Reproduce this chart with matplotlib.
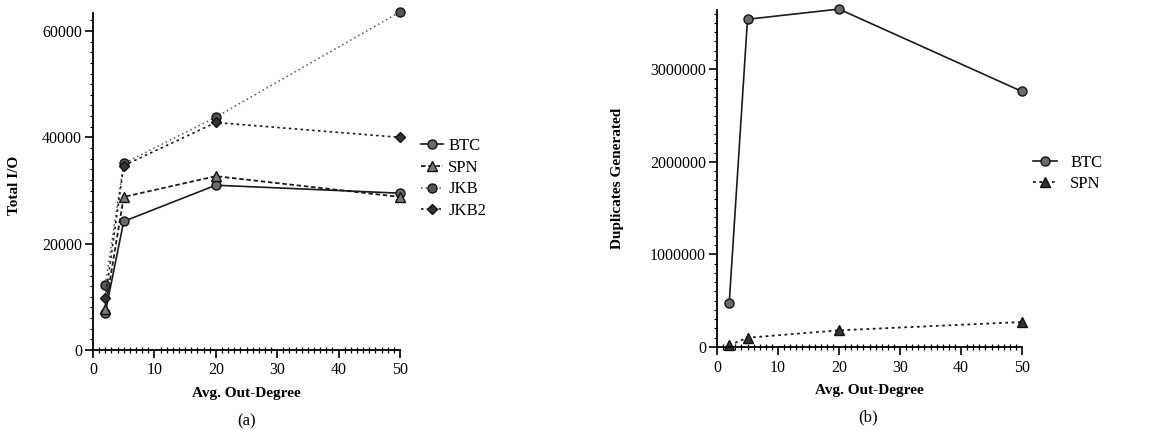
import matplotlib
matplotlib.use("Agg")
import matplotlib.pyplot as plt
from matplotlib.ticker import MultipleLocator, FuncFormatter

plt.rcParams['font.family'] = ['Liberation Serif', 'DejaVu Serif']

# ---- data ----
degree = [2, 5, 20, 50]

io_btc = [7000, 24200, 31000, 29500]
io_spn = [7800, 28800, 32700, 28800]
io_jkb = [12300, 35100, 43800, 63600]
io_jkb2 = [9700, 34700, 42800, 40000]

dup_btc = [470000, 3540000, 3650000, 2760000]
dup_spn = [20000, 100000, 180000, 270000]

x_label = "Avg. Out-Degree"
left_ylabel = "Total I/O"
right_ylabel = "Duplicates Generated"

fig = plt.figure(figsize=(11.6, 4.3), dpi=100)

ax1 = fig.add_axes([93/1160, 1 - 350/430, 307/1160, 337/430])
ax2 = fig.add_axes([717/1160, 1 - 347/430, 305/1160, 337/430])

mk = dict(markersize=6.5, markeredgewidth=1.0, clip_on=False)
dark = '#1a1a1a'

ax1.plot(degree, io_btc, '-', color=dark, lw=1.2, marker='o',
         markerfacecolor='#6a6a6a', markeredgecolor='#111111', label='BTC', **mk)
ax1.plot(degree, io_spn, linestyle=(0, (2.5, 1.5)), color=dark, lw=1.3, marker='^',
         markerfacecolor='#777777', markeredgecolor='#111111', label='SPN', **mk)
ax1.plot(degree, io_jkb, linestyle=(0, (1, 2)), color='#555555', lw=1.1, marker='o',
         markerfacecolor='#555555', markeredgecolor='#111111', label='JKB', **mk)
ax1.plot(degree, io_jkb2, linestyle=(0, (1.5, 2)), color=dark, lw=1.2, marker='D',
         markerfacecolor='#333333', markeredgecolor='#111111', label='JKB2',
         markersize=5, markeredgewidth=1.0, clip_on=False)

ax2.plot(degree, dup_btc, '-', color=dark, lw=1.2, marker='o',
         markerfacecolor='#6a6a6a', markeredgecolor='#111111', label='BTC', **mk)
ax2.plot(degree, dup_spn, linestyle=(0, (1.5, 2)), color=dark, lw=1.3, marker='^',
         markerfacecolor='#333333', markeredgecolor='#111111', label='SPN',
         markersize=7.5, markeredgewidth=1.0, clip_on=False)

ax1.set_xlim(0, 50)
ax1.set_ylim(0, 63400)
ax2.set_xlim(0, 50)
ax2.set_ylim(0, 3640000)

for ax in (ax1, ax2):
    for s in ('top', 'right'):
        ax.spines[s].set_visible(False)
    ax.spines['left'].set_linewidth(1.3)
    ax.spines['bottom'].set_linewidth(1.3)
    ax.xaxis.set_major_locator(MultipleLocator(10))
    ax.xaxis.set_minor_locator(MultipleLocator(1))
    ax.tick_params(axis='x', which='major', direction='out', length=6, width=1.2,
                   labelsize=11.5, pad=3)
    ax.tick_params(axis='x', which='minor', direction='inout', length=5, width=0.9)
    ax.tick_params(axis='y', which='major', direction='out', length=6, width=1.2,
                   labelsize=11.5, pad=2)
    ax.tick_params(axis='y', which='minor', direction='out', length=2.5, width=0.8)
    ax.set_xlabel(x_label, fontsize=11, fontweight='bold', labelpad=6)

ax1.yaxis.set_major_locator(MultipleLocator(20000))
ax1.yaxis.set_minor_locator(MultipleLocator(2000))
ax2.yaxis.set_major_locator(MultipleLocator(1000000))
ax2.yaxis.set_minor_locator(MultipleLocator(100000))
ax1.yaxis.set_major_formatter(FuncFormatter(lambda v, p: f"{int(v)}"))
ax2.yaxis.set_major_formatter(FuncFormatter(lambda v, p: f"{int(v)}"))

fig.text(14/1160, 1 - 185/430, left_ylabel, rotation=90, ha='center', va='center',
         fontsize=11, fontweight='bold')
fig.text(618/1160, 1 - 178/430, right_ylabel, rotation=90, ha='center', va='center',
         fontsize=11, fontweight='bold')

leg1 = ax1.legend(loc='upper left', bbox_to_anchor=(1.07, 0.63), frameon=False,
                  fontsize=12, handlelength=1.3, handletextpad=0.3,
                  labelspacing=0.35, borderaxespad=0, borderpad=0)
leg2 = ax2.legend(loc='upper left', bbox_to_anchor=(1.035, 0.57), frameon=False,
                  fontsize=12, handlelength=1.45, handletextpad=0.8,
                  labelspacing=0.3, borderaxespad=0, borderpad=0)

fig.text(247/1160, 1 - 421/430, "(a)", ha='center', va='center', fontsize=12)
fig.text(868/1160, 1 - 417/430, "(b)", ha='center', va='center', fontsize=12)

fig.savefig("out.png", dpi=100)
